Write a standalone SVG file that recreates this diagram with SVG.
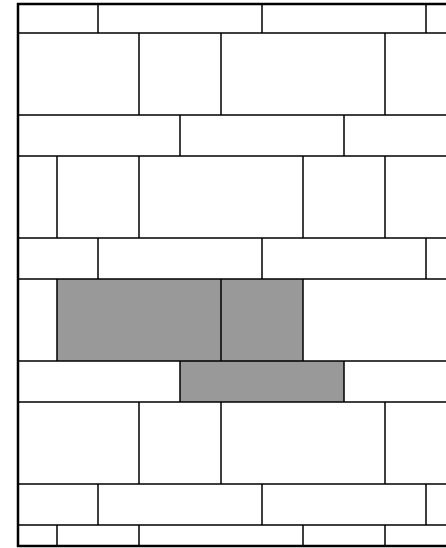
<svg xmlns="http://www.w3.org/2000/svg" width="446" height="548" viewBox="0 0 446 548">
<style>
.brick{fill:#999999;stroke:none}
.ln{stroke:#000;stroke-width:1.5;fill:none}
.frame{stroke:#000;stroke-width:2.5;fill:none}
</style>
<rect width="446" height="548" fill="#fff"/>
<g id="shaded">
<rect class="brick" x="57" y="279" width="246" height="82"/>
<rect class="brick" x="180" y="361" width="164" height="41"/>
</g>
<g id="joints">
<path class="ln" d="M18,33H446M18,115H446M18,156H446M18,238H446M18,279H446M18,361H446M18,402H446M18,484H446M18,525H446"/>
<path class="ln" d="M98,4V33M262,4V33M426,4V33
M139,33V115M221,33V115M385,33V115
M180,115V156M344,115V156
M57,156V238M139,156V238M303,156V238M385,156V238
M98,238V279M262,238V279M426,238V279
M57,279V361M221,279V361M303,279V361
M180,361V402M344,361V402
M139,402V484M221,402V484M385,402V484
M98,484V525M262,484V525M426,484V525
M57,525V546M139,525V546M303,525V546M385,525V546"/>
</g>
<path class="frame" d="M446,4H18V546H446"/>
</svg>
